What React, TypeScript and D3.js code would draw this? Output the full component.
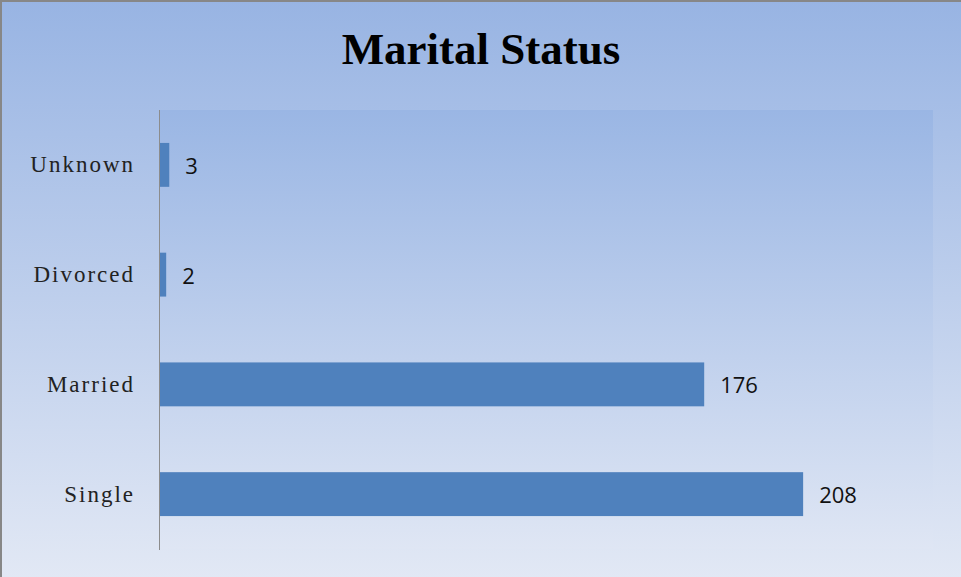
import React, { useEffect } from "react";
import * as d3 from "d3";

const categories = ["Unknown", "Divorced", "Married", "Single"];
const counts = [3, 2, 176, 208];
const title = "Marital Status";
const xMax = 250;

const W = 961;
const H = 577;
const plot = { left: 160, top: 110, right: 933, bottom: 549 };

export default function App() {
  useEffect(() => {
    document.body.style.margin = "0";
  }, []);

  const x = d3.scaleLinear().domain([0, xMax]).range([plot.left, plot.right]);
  const y = d3
    .scaleBand<string>()
    .domain(categories)
    .range([plot.top, plot.bottom])
    .paddingInner(0.6)
    .paddingOuter(0.3);

  return (
    <svg width={W} height={H} style={{ position: "absolute", left: 0, top: 0, display: "block" }}>
      <defs>
        <linearGradient id="bgGrad" x1="0" y1="0" x2="0" y2="1">
          <stop offset="0" stopColor="#98b4e3" />
          <stop offset="1" stopColor="#e3e9f5" />
        </linearGradient>
        <linearGradient id="plotGrad" x1="0" y1="0" x2="0" y2="1">
          <stop offset="0" stopColor="#9ab6e4" />
          <stop offset="1" stopColor="#dfe6f4" />
        </linearGradient>
      </defs>
      <rect x={1} y={1} width={W + 10} height={H + 10} fill="url(#bgGrad)" stroke="#878787" strokeWidth={2} />
      <rect
        x={plot.left}
        y={plot.top}
        width={plot.right - plot.left}
        height={plot.bottom - plot.top}
        fill="url(#plotGrad)"
      />
      <text
        x={481}
        y={64}
        textAnchor="middle"
        fontFamily="'Liberation Serif', serif"
        fontWeight="bold"
        fontSize={45}
        fill="#000"
      >
        {title}
      </text>
      {categories.map((c, i) => {
        const by = y(c)!;
        const bh = y.bandwidth();
        return (
          <g key={c}>
            <rect x={x(0)} y={by} width={x(counts[i]) - x(0)} height={bh} fill="#4f81bd" />
            <text
              x={x(counts[i]) + 16}
              y={by + bh / 2}
              dominantBaseline="central"
              fontFamily="'Open Sans', sans-serif"
              fontSize={22}
              fill="#111"
            >
              {counts[i]}
            </text>
            <text
              x={135}
              y={by + bh / 2}
              dominantBaseline="central"
              textAnchor="end"
              fontFamily="'Liberation Serif', serif"
              fontSize={23}
              letterSpacing={2}
              fill="#222"
            >
              {c}
            </text>
          </g>
        );
      })}
      <line x1={159.5} x2={159.5} y1={plot.top} y2={plot.bottom + 1} stroke="#8c8c8c" strokeWidth={1} />
    </svg>
  );
}
